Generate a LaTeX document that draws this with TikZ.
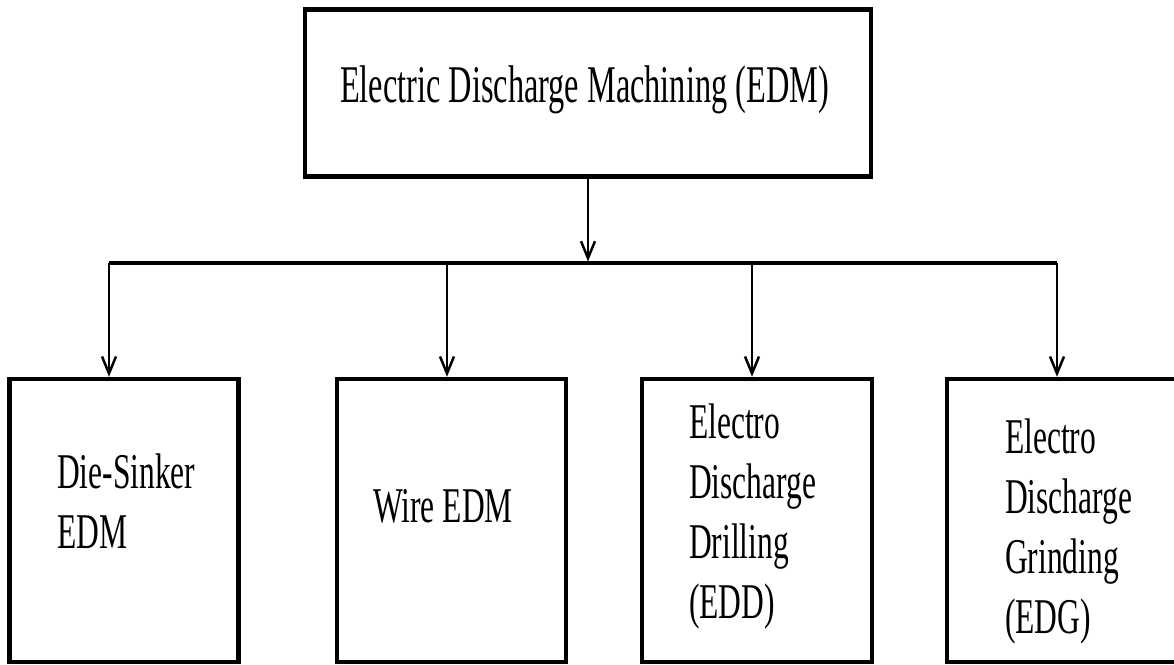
\documentclass[tikz,border=0pt]{standalone}
\usepackage{fontspec}
\newfontfamily\titlefont[FakeStretch=0.61]{Liberation Serif}
\newfontfamily\boxfont[FakeStretch=0.63]{Liberation Serif}
\usetikzlibrary{arrows.meta}
\begin{document}
\begin{tikzpicture}[x=1pt,y=-1pt,
  box/.style={draw, line width=4.5pt, inner sep=0pt, minimum width=229pt, minimum height=283pt},
  boxtext/.style={anchor=north west, align=left, inner sep=0pt, font=\boxfont\fontsize{50}{60}\selectfont},
  linetext/.style={anchor=base west, inner sep=0pt, font=\boxfont\fontsize{50}{60}\selectfont},
  link/.style={line width=2.5pt, -{Straight Barb[length=17pt,width=14pt]}},
  bus/.style={line width=3.5pt}]
  \useasboundingbox (0,0) rectangle (1174,664);

  % root
  \node[box, minimum width=566pt, minimum height=167pt] (edm) at (588,93) {};
  \node[anchor=base west, inner sep=0pt, font=\titlefont\fontsize{53}{60}\selectfont] (edmtext) at (340,102) {Electric Discharge Machining (EDM)};

  % branches
  \node[box] (sinker) at (124,520.5) {};
  \node[box] (wire) at (451.5,520.5) {};
  \node[box, minimum width=230pt] (drill) at (757,520.5) {};
  \node[box, minimum width=230pt] (grind) at (1062,520.5) {};

  \node[boxtext] (sinkertext) at (57,454) {Die-Sinker\\EDM};
  \node[linetext] (wiretext) at (373,522) {Wire EDM};
  \node[boxtext] (drilltext) at (689,404) {Electro\\Discharge\\Drilling\\(EDD)};
  \node[boxtext] (grindtext) at (1005,419) {Electro\\Discharge\\Grinding\\(EDG)};

  % distribution bus
  \coordinate (busM) at (588,263);
  \coordinate (d1) at (109,263);
  \coordinate (d2) at (447,263);
  \coordinate (d3) at (752,263);
  \coordinate (d4) at (1057,263);
  \draw[bus] (d1) -- (d4);
  \draw[link, shorten >=1.5pt] (edm.south) -- (busM);
  \draw[link] (d1) -- (d1 |- sinker.north);
  \draw[link] (d2) -- (d2 |- wire.north);
  \draw[link] (d3) -- (d3 |- drill.north);
  \draw[link] (d4) -- (d4 |- grind.north);
\end{tikzpicture}
\end{document}
